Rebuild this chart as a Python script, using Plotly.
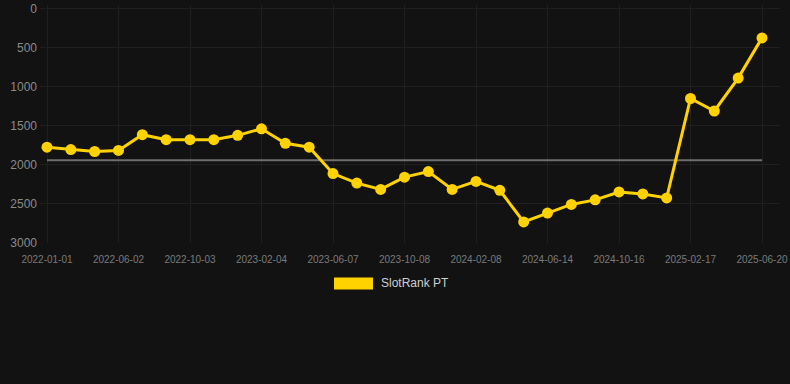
import plotly.graph_objects as go

dates = [
    "2022-01-01", "2022-02-20", "2022-04-12", "2022-06-02", "2022-07-13", "2022-08-23",
    "2022-10-03", "2022-11-13", "2022-12-25", "2023-02-04", "2023-03-17", "2023-04-27",
    "2023-06-07", "2023-07-18", "2023-08-28", "2023-10-08", "2023-11-18", "2023-12-29",
    "2024-02-08", "2024-03-20", "2024-05-01", "2024-06-14", "2024-07-26", "2024-09-04",
    "2024-10-16", "2024-11-27", "2025-01-06", "2025-02-17", "2025-03-30", "2025-05-10",
    "2025-06-20",
]
rank = [
    1772, 1802, 1827, 1814, 1612, 1675, 1675, 1675, 1620, 1536,
    1722, 1772, 2110, 2232, 2313, 2156, 2085, 2313, 2211, 2325,
    2730, 2616, 2506, 2447, 2346, 2371, 2422, 1148, 1308, 886,
    371,
]
avg_rank = [1940] * len(dates)
tick_labels = dates[::3]
y_ticks = [0, 500, 1000, 1500, 2000, 2500, 3000]
series_name = "SlotRank PT"

W, H = 790, 384
L, R, T, B = 40, 10, 2, 141
pw, ph = W - L - R, H - T - B

fig = go.Figure()
fig.add_trace(go.Scatter(
    x=dates, y=avg_rank, mode="lines",
    line=dict(color="#6e6e6e", width=2), hoverinfo="skip", showlegend=False,
))
fig.add_trace(go.Scatter(
    x=dates, y=rank, mode="lines+markers", name=series_name,
    line=dict(color="#FFD200", width=3),
    marker=dict(color="#FFD200", size=11),
    showlegend=False,
))

step = (762 - 47) / (len(dates) - 1)
x0 = -(47 - L) / step
x1 = (len(dates) - 1) + (W - R - 762) / step
units_per_px = 3000 / (243 - 6)
y_top = -(6 - T) * units_per_px

def px(xp):
    return (xp - L) / pw

def py(yp):
    return (H - B - yp) / ph

fig.add_shape(type="rect", xref="paper", yref="paper",
              x0=px(334), x1=px(373), y0=py(290), y1=py(278),
              fillcolor="#FFD200", line=dict(width=0))
fig.add_annotation(xref="paper", yref="paper", x=px(379), y=py(284),
                   text=series_name, showarrow=False, xanchor="left", yanchor="middle",
                   font=dict(family="Liberation Sans, Arial, sans-serif", size=12, color="#d0d0d0"))

fig.update_layout(
    width=W, height=H,
    margin=dict(l=L, r=R, t=T, b=B),
    paper_bgcolor="#121212", plot_bgcolor="#121212",
    font=dict(family="Liberation Sans, Arial, sans-serif", color="#8a8a8a"),
    showlegend=False,
    xaxis=dict(
        type="category", range=[x0, x1],
        tickmode="array", tickvals=tick_labels, ticktext=tick_labels,
        showgrid=True, gridcolor="#1f1f1f", gridwidth=1,
        zeroline=False, showline=False, ticks="",
        tickfont=dict(size=10, color="#7a7a7a"),
        ticklabelstandoff=9,
    ),
    yaxis=dict(
        range=[3000, y_top], tickvals=y_ticks,
        showgrid=True, gridcolor="#1f1f1f", gridwidth=1,
        zeroline=False, showline=False, ticks="",
        tickfont=dict(size=12, color="#8a8a8a"),
        ticklabelstandoff=2, ticklabeloverflow="allow",
    ),
)

fig.write_html(
    "out.html",
    config={"displayModeBar": False},
    post_script="document.body.style.margin='0';document.body.style.background='#121212';",
)
